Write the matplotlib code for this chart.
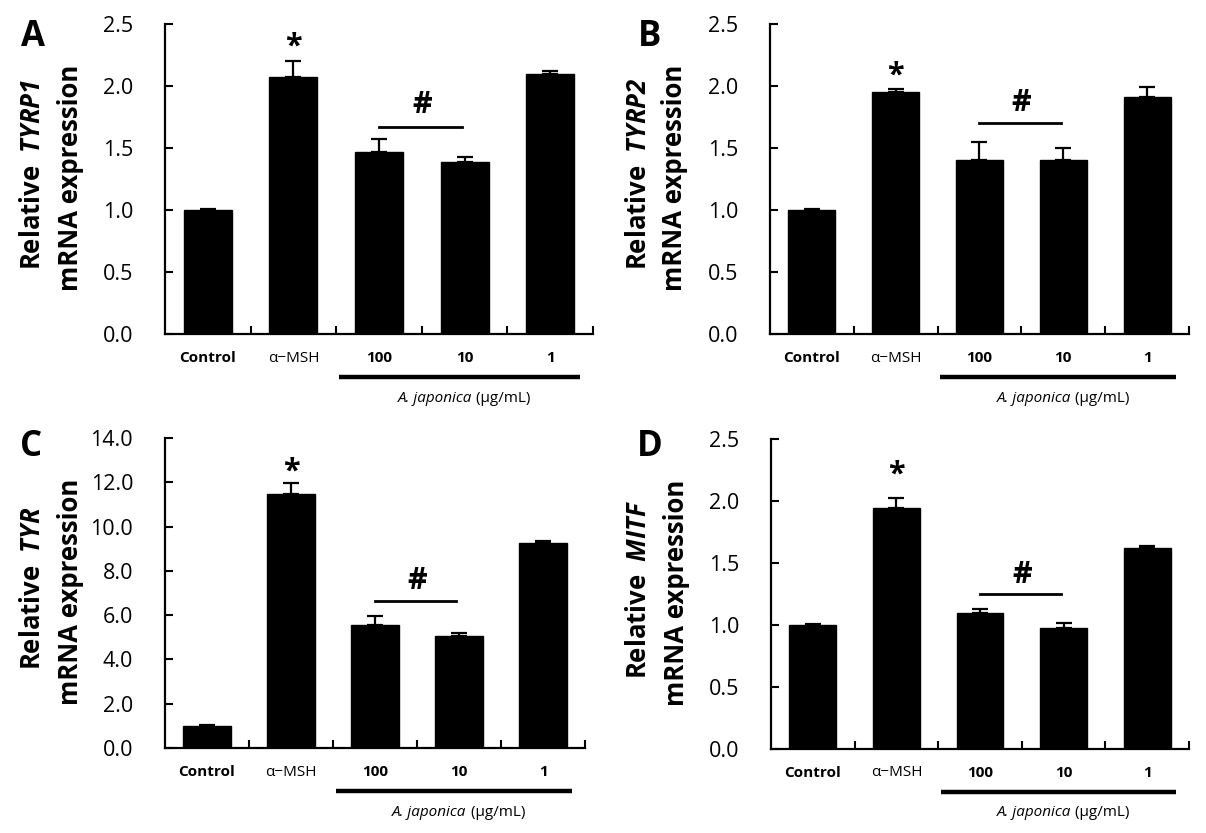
import matplotlib
matplotlib.use('Agg')
import matplotlib.pyplot as plt

plt.rcParams['font.family'] = ['Open Sans', 'DejaVu Sans']
plt.rcParams['mathtext.fontset'] = 'custom'
plt.rcParams['mathtext.it'] = 'Open Sans:italic:bold'
plt.rcParams['mathtext.rm'] = 'Open Sans:italic:bold'

# data
groups = ['Control', 'α−MSH', '100', '10', '1']
genes = ['TYRP1', 'TYRP2', 'TYR', 'MITF']
letters = ['A', 'B', 'C', 'D']

tyrp1_mean = [1.0, 2.07, 1.47, 1.39, 2.10]
tyrp1_err = [0.01, 0.13, 0.10, 0.04, 0.02]
tyrp2_mean = [1.0, 1.955, 1.40, 1.40, 1.91]
tyrp2_err = [0.01, 0.02, 0.15, 0.10, 0.08]
tyr_mean = [0.98, 11.49, 5.55, 5.05, 9.25]
tyr_err = [0.06, 0.50, 0.42, 0.15, 0.12]
mitf_mean = [1.0, 1.946, 1.097, 0.973, 1.624]
mitf_err = [0.01, 0.075, 0.035, 0.045, 0.01]

means = [tyrp1_mean, tyrp2_mean, tyr_mean, mitf_mean]
errs = [tyrp1_err, tyrp2_err, tyr_err, mitf_err]
ymax = [2.5, 2.5, 14.0, 2.5]
ystep = [0.5, 0.5, 2.0, 0.5]

# layout (pixels in a 1206x833 canvas)
W, H = 1206, 833
boxes = [(165, 24, 593, 334), (770, 24, 1189, 334),
         (165, 438, 585, 748), (771, 439, 1189, 749)]
letter_xy = [(33, 37), (650, 37), (31, 447), (650, 447)]
star_off = [15, 14, 11, 24]     # px above error bar
hash_line_off = [12, 19, 15, 15]
hash_off = [22, 20, 20, 19]

fig = plt.figure(figsize=(W / 100, H / 100), dpi=100)

for k in range(4):
    l, t, r, b = boxes[k]
    ax = fig.add_axes([l / W, 1 - b / H, (r - l) / W, (b - t) / H])
    m, e = means[k], errs[k]
    xs = [i + 0.5 for i in range(5)]
    ax.bar(xs, m, width=0.56, color='black', edgecolor='black',
           yerr=[[0] * 5, e], capsize=5.5,
           error_kw=dict(elinewidth=1.6, capthick=1.6, ecolor='black'))
    ax.set_xlim(0, 5)
    ax.set_ylim(0, ymax[k])
    n = int(round(ymax[k] / ystep[k]))
    yt = [i * ystep[k] for i in range(n + 1)]
    ax.set_yticks(yt)
    ax.set_yticklabels([f'{v:.1f}' for v in yt], fontsize=15.5)
    ax.set_xticks([1, 2, 3, 4, 5])
    ax.set_xticklabels([])
    ax.tick_params(direction='in', length=6, width=1.5, color='black')
    ax.tick_params(axis='y', pad=23)
    for s in ['top', 'right']:
        ax.spines[s].set_visible(False)
    for s in ['left', 'bottom']:
        ax.spines[s].set_linewidth(1.6)

    trans = ax.get_xaxis_transform()
    ph = b - t
    for i, g in enumerate(groups):
        ax.text(xs[i], -24 / ph, g, transform=trans, ha='center', va='center',
                fontsize=11, fontweight='normal' if i == 1 else 'bold')
    ax.plot([2.03, 4.85], [-43 / ph, -43 / ph], transform=trans, color='black',
            lw=3.2, clip_on=False, solid_capstyle='butt')
    ax.text(3.59, -64 / ph, 'A. japonica', transform=trans, ha='right',
            va='center', fontsize=11, style='italic')
    ax.text(3.59, -64 / ph, ' (μg/mL)', transform=trans, ha='left',
            va='center', fontsize=11)

    # significance marks
    ax.annotate('*', xy=(1.5, m[1] + e[1]), xytext=(0, star_off[k] * 0.72),
                textcoords='offset points', ha='center', va='center',
                fontsize=22, fontweight='bold')
    top = max(m[2] + e[2], m[3] + e[3])
    per_px = ymax[k] / ph
    ly = top + hash_line_off[k] * per_px
    ax.plot([2.5, 3.47], [ly, ly], color='black', lw=2, clip_on=False)
    ax.text(3.0, ly + hash_off[k] * per_px, '#', ha='center', va='center',
            fontsize=22, fontweight='bold')

    # y label, two lines
    cy = (t + b) / 2
    fig.text((l - 132) / W, 1 - (cy - 5) / H, 'Relative  $\\mathit{' + genes[k] + '}$',
             rotation=90, ha='center', va='center', fontsize=18.5, fontweight='bold')
    fig.text((l - 95) / W, 1 - (cy - 1) / H, 'mRNA expression',
             rotation=90, ha='center', va='center', fontsize=18.5, fontweight='bold')

    lx, lyy = letter_xy[k]
    fig.text(lx / W, 1 - lyy / H, letters[k], ha='center', va='center',
             fontsize=25, fontweight='bold')

fig.savefig('out.png', dpi=100, facecolor='white')
